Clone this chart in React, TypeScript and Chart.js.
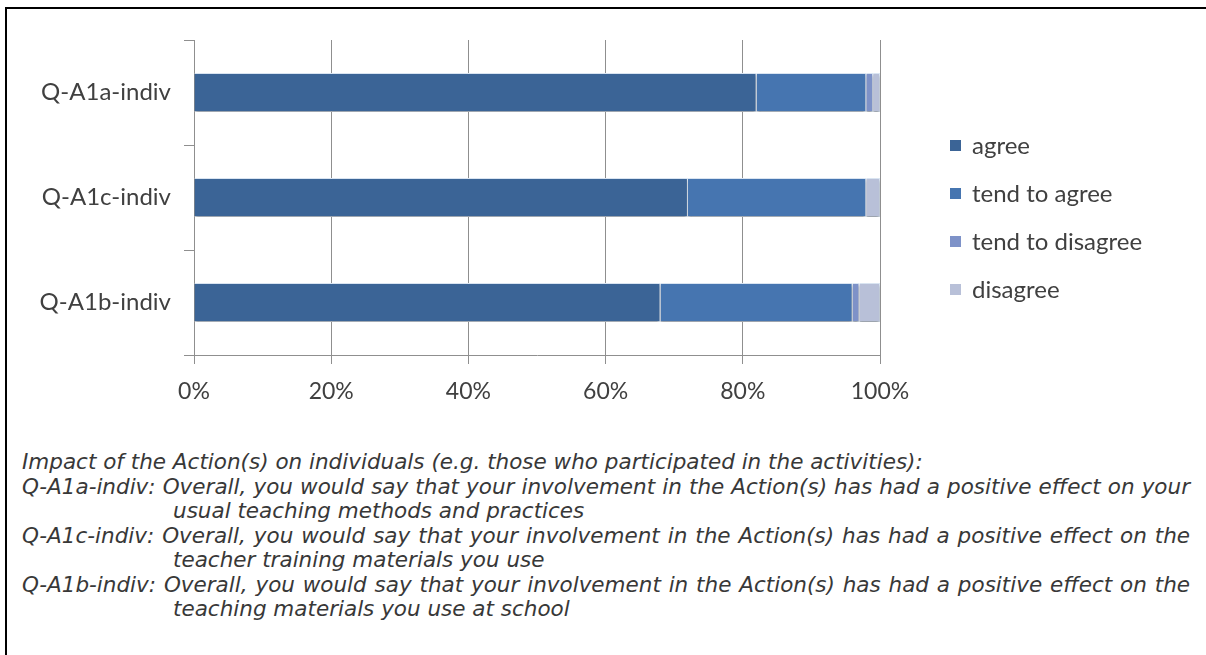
import React, { useEffect, useRef } from "react";
import { Chart, registerables } from "chart.js";

Chart.register(...registerables);

const categories = ["Q-A1a-indiv", "Q-A1c-indiv", "Q-A1b-indiv"];
const seriesNames = ["agree", "tend to agree", "tend to disagree", "disagree"];
const agree = [82, 72, 68];
const tendToAgree = [16, 26, 28];
const tendToDisagree = [1, 0, 1];
const disagree = [1, 2, 3];
const xTicks = [0, 20, 40, 60, 80, 100];

const seriesColors = ["#3b6496", "#4675b0", "#7e92c8", "#b8c0d8"];

const shadowPlugin = {
  id: "barShadow",
  beforeDatasetsDraw(chart: any) {
    const ctx = chart.ctx;
    ctx.save();
    ctx.shadowColor = "rgba(0,0,0,0.35)";
    ctx.shadowBlur = 3;
    ctx.shadowOffsetY = 2;
  },
  afterDatasetsDraw(chart: any) {
    chart.ctx.restore();
  },
};

const legendPlugin = {
  id: "sideLegend",
  afterDraw(chart: any) {
    const { ctx, chartArea } = chart;
    const x0 = chartArea.right + 70;
    const gap = 48;
    const y0 = 145;
    ctx.save();
    ctx.font = '24px "Lato"';
    ctx.textBaseline = "middle";
    chart.data.datasets.forEach((ds: any, i: number) => {
      const y = y0 + i * gap;
      ctx.fillStyle = ds.backgroundColor;
      ctx.fillRect(x0, y - 5, 11, 11);
      ctx.fillStyle = "#404040";
      ctx.fillText(ds.label, x0 + 22, y + 1);
    });
    ctx.restore();
  },
};

function BarChart() {
  const ref = useRef<HTMLCanvasElement>(null);
  useEffect(() => {
    if (!ref.current) return;
    const values = [agree, tendToAgree, tendToDisagree, disagree];
    const chart = new Chart(ref.current, {
      type: "bar",
      data: {
        labels: categories,
        datasets: seriesNames.map((name, i) => ({
          label: name,
          data: values[i],
          backgroundColor: seriesColors[i],
          borderColor: "#dde8f5",
          borderWidth: 1,
          barPercentage: 0.37,
          categoryPercentage: 1,
        })),
      },
      options: {
        indexAxis: "y",
        animation: false,
        responsive: false,
        maintainAspectRatio: false,
        layout: { padding: { top: 40, right: 326, left: 0, bottom: 0 } },
        plugins: {
          legend: { display: false },
          tooltip: { enabled: false },
        },
        scales: {
          x: {
            stacked: true,
            min: 0,
            max: 100,
            afterFit: (scale: any) => {
              scale.height = 65;
            },
            afterBuildTicks: (scale: any) => {
              scale.ticks = xTicks.map((v) => ({ value: v }));
            },
            ticks: {
              callback: (v: any) => `${v}%`,
              font: { family: "Lato", size: 23 },
              color: "#404040",
              padding: 14,
            },
            grid: { color: "#8f8f8f", lineWidth: 1, tickLength: 9 },
            border: { color: "#8f8f8f" },
          },
          y: {
            stacked: true,
            afterFit: (scale: any) => {
              scale.width = 194;
            },
            ticks: {
              font: { family: "Lato", size: 24 },
              color: "#404040",
              padding: 13,
            },
            grid: {
              drawOnChartArea: false,
              offset: true,
              color: "#8f8f8f",
              tickLength: 10,
            },
            border: { color: "#8f8f8f" },
          },
        },
      },
      plugins: [shadowPlugin, legendPlugin],
    });
    return () => chart.destroy();
  }, []);
  return (
    <canvas
      ref={ref}
      width={1206}
      height={420}
      style={{ position: "absolute", left: 0, top: 0, width: 1206, height: 420 }}
    />
  );
}

const justified: React.CSSProperties = { textAlign: "justify", textAlignLast: "justify" };
const indented: React.CSSProperties = { paddingLeft: 151 };

export default function App() {
  return (
    <div
      style={{
        position: "absolute",
        left: 0,
        top: 0,
        width: 1206,
        height: 655,
        overflow: "hidden",
        background: "#fff",
      }}
    >
      <div
        style={{
          position: "absolute",
          left: 5,
          top: 7,
          width: 1400,
          height: 900,
          border: "2px solid #000",
          boxSizing: "border-box",
        }}
      />
      <BarChart />
      <div
        style={{
          position: "absolute",
          left: 22,
          top: 450,
          width: 1168,
          fontFamily: '"DejaVu Sans", Verdana, sans-serif',
          fontStyle: "italic",
          fontSize: 21.5,
          lineHeight: "24.5px",
          color: "#383838",
          whiteSpace: "nowrap",
        }}
      >
        <div>Impact of the Action(s) on individuals (e.g. those who participated in the activities):</div>
        <div style={justified}>
          Q-A1a-indiv: Overall, you would say that your involvement in the Action(s) has had a positive effect on your
        </div>
        <div style={indented}>usual teaching methods and practices</div>
        <div style={justified}>
          Q-A1c-indiv: Overall, you would say that your involvement in the Action(s) has had a positive effect on the
        </div>
        <div style={indented}>teacher training materials you use</div>
        <div style={justified}>
          Q-A1b-indiv: Overall, you would say that your involvement in the Action(s) has had a positive effect on the
        </div>
        <div style={indented}>teaching materials you use at school</div>
      </div>
    </div>
  );
}
